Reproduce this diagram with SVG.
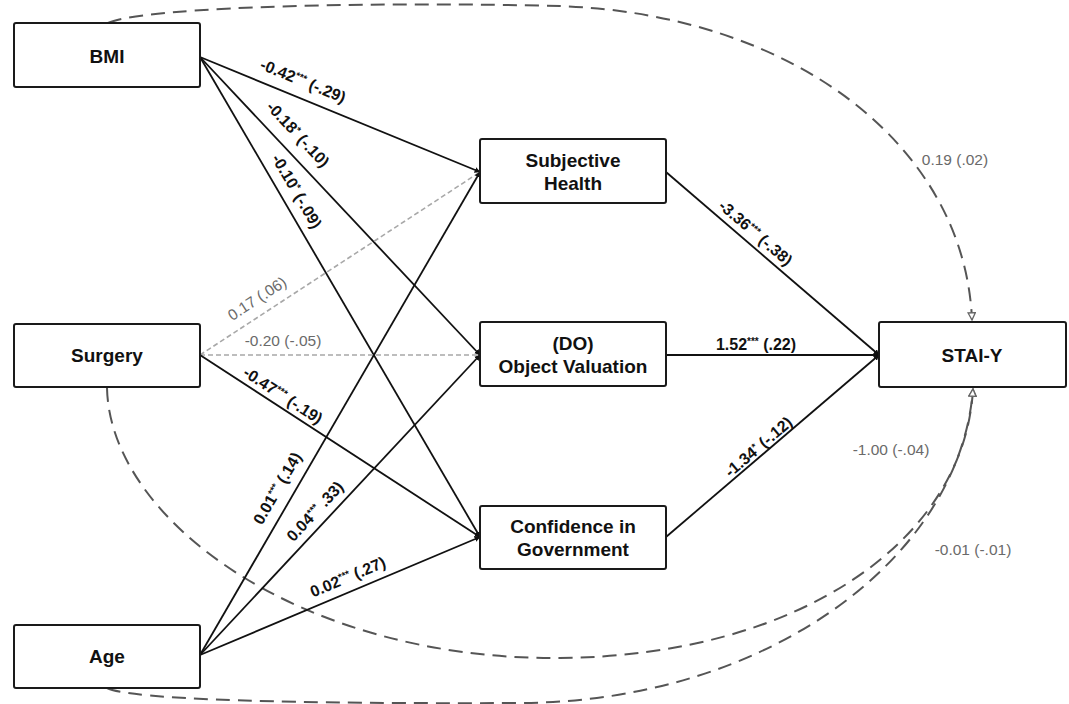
<svg xmlns="http://www.w3.org/2000/svg" width="1069" height="704" viewBox="0 0 1069 704">
<style>
.box{fill:#fff;stroke:#1a1a1a;stroke-width:2}
.nt{font-family:"Liberation Sans",Arial,sans-serif;font-size:19px;font-weight:bold;fill:#111;text-anchor:middle}
.p{fill:none;stroke:#111;stroke-width:1.8}
.pg{fill:none;stroke:#a8a8a8;stroke-width:1.6;stroke-dasharray:5 3}
.cv{fill:none;stroke:#555;stroke-width:2;stroke-dasharray:14 8}
.lb{font-family:"Liberation Sans",Arial,sans-serif;font-size:16px;font-weight:bold;fill:#111;text-anchor:middle}
.lg{font-family:"Liberation Sans",Arial,sans-serif;font-size:15.5px;fill:#6a6a6a;text-anchor:middle}
.st{font-size:10px}
</style>
<defs>
<marker id="ah" viewBox="0 0 10 10" refX="9" refY="5" markerWidth="6" markerHeight="6" markerUnits="userSpaceOnUse" orient="auto">
<path d="M0,0 L10,5 L0,10 z" fill="#111"/>
</marker>
<marker id="ag" viewBox="0 0 10 10" refX="9" refY="5" markerWidth="9" markerHeight="9" markerUnits="userSpaceOnUse" orient="auto">
<path d="M1,1 L9,5 L1,9 z" fill="#fff" stroke="#666" stroke-width="1.5"/>
</marker>
</defs>
<rect width="1069" height="704" fill="#fff"/>
<g id="connectors">
<path class="cv" d="M108,23 C150,5 400,2 560,6 C800,15 965,150 972,320" marker-end="url(#ag)"/>
<path class="cv" d="M107,388 C110,520 300,660 560,658 C800,656 965,540 973,389" marker-end="url(#ag)"/>
<path class="cv" d="M107,688 C130,700 300,704 520,703 C765,702 960,560 973,389" marker-end="url(#ag)"/>
<line class="p" x1="200" y1="57" x2="480" y2="172" marker-end="url(#ah)"/>
<line class="p" x1="200" y1="57" x2="480" y2="355" marker-end="url(#ah)"/>
<line class="p" x1="200" y1="57" x2="480" y2="537" marker-end="url(#ah)"/>
<line class="pg" x1="200" y1="355" x2="480" y2="172"/>
<line class="pg" x1="200" y1="355" x2="480" y2="355"/>
<line class="p" x1="200" y1="355" x2="480" y2="537" marker-end="url(#ah)"/>
<line class="p" x1="200" y1="655" x2="480" y2="172" marker-end="url(#ah)"/>
<line class="p" x1="200" y1="655" x2="480" y2="355" marker-end="url(#ah)"/>
<line class="p" x1="200" y1="655" x2="480" y2="537" marker-end="url(#ah)"/>
<line class="p" x1="666" y1="172" x2="879" y2="355" marker-end="url(#ah)"/>
<line class="p" x1="666" y1="355" x2="879" y2="355" marker-end="url(#ah)"/>
<line class="p" x1="666" y1="537" x2="879" y2="355" marker-end="url(#ah)"/>
</g>
<g id="labels">
<text class="lb" transform="translate(301,86) rotate(22.3)">-0.42<tspan class="st" dy="-5">***</tspan><tspan dy="5"> (-.29)</tspan></text>
<text class="lb" transform="translate(294,138) rotate(46.8)">-0.18<tspan class="st" dy="-5">*</tspan><tspan dy="5"> (-.10)</tspan></text>
<text class="lb" transform="translate(292,194) rotate(59.7)">-0.10<tspan class="st" dy="-5">*</tspan><tspan dy="5"> (-.09)</tspan></text>
<text class="lg" transform="translate(260,303) rotate(-33.2)">0.17 (.06)</text>
<text class="lg" x="283" y="346">-0.20 (-.05)</text>
<text class="lb" transform="translate(280,400) rotate(33)">-0.47<tspan class="st" dy="-5">***</tspan><tspan dy="5"> (-.19)</tspan></text>
<text class="lb" transform="translate(282,491) rotate(-59.9)">0.01<tspan class="st" dy="-5">***</tspan><tspan dy="5"> (.14)</tspan></text>
<text class="lb" transform="translate(319,515) rotate(-47.1)">0.04<tspan class="st" dy="-5">***</tspan><tspan dy="5"> .33)</tspan></text>
<text class="lb" transform="translate(350,582) rotate(-22.9)">0.02<tspan class="st" dy="-5">***</tspan><tspan dy="5"> (.27)</tspan></text>
<text class="lb" transform="translate(752,237) rotate(40.7)">-3.36<tspan class="st" dy="-5">***</tspan><tspan dy="5"> (-.38)</tspan></text>
<text class="lb" x="756" y="350">1.52<tspan class="st" dy="-5">***</tspan><tspan dy="5"> (.22)</tspan></text>
<text class="lb" transform="translate(762,451) rotate(-40.5)">-1.34<tspan class="st" dy="-5">*</tspan><tspan dy="5"> (-.12)</tspan></text>
<text class="lg" x="955" y="165">0.19 (.02)</text>
<text class="lg" x="891" y="455">-1.00 (-.04)</text>
<text class="lg" x="973" y="555">-0.01 (-.01)</text>
</g>
<g id="bmi"><rect class="box" x="14" y="23" width="186" height="64" rx="2"/><text class="nt" x="107" y="63">BMI</text></g>
<g id="surgery"><rect class="box" x="14" y="324" width="186" height="63" rx="2"/><text class="nt" x="107" y="362">Surgery</text></g>
<g id="age"><rect class="box" x="14" y="625" width="186" height="63" rx="2"/><text class="nt" x="107" y="663">Age</text></g>
<g id="subjective-health"><rect class="box" x="480" y="139" width="186" height="64" rx="2"/><text class="nt" x="573" y="167">Subjective</text><text class="nt" x="573" y="190">Health</text></g>
<g id="object-valuation"><rect class="box" x="480" y="322" width="186" height="64" rx="2"/><text class="nt" x="573" y="350">(DO)</text><text class="nt" x="573" y="373">Object Valuation</text></g>
<g id="confidence-government"><rect class="box" x="480" y="506" width="186" height="63" rx="2"/><text class="nt" x="573" y="533">Confidence in</text><text class="nt" x="573" y="556">Government</text></g>
<g id="stai-y"><rect class="box" x="879" y="322" width="187" height="65" rx="2"/><text class="nt" x="972" y="362">STAI-Y</text></g>
</svg>
